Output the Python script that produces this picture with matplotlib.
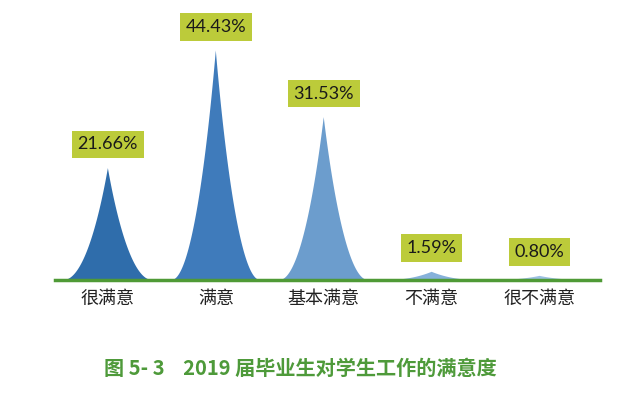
import numpy as np
import matplotlib.pyplot as plt
from matplotlib.patches import Polygon

plt.rcParams['font.family'] = ['Noto Sans CJK SC', 'DejaVu Sans']

categories = ['很满意', '满意', '基本满意', '不满意', '很不满意']
values = [21.66, 44.43, 31.53, 1.59, 0.80]
labels = ['21.66%', '44.43%', '31.53%', '1.59%', '0.80%']
colors = ['#2f6dab', '#3f7bbb', '#6c9dcd', '#86b1da', '#9cc0e2']

title = '图 5- 3    2019 届毕业生对学生工作的满意度'


def peak_outline(xc, h, half_w, n=60):
    # cubic bezier for each side: flat skirt at the base, sharp point at the top
    s = np.linspace(0, 1, n)
    p0, p1, p2, p3 = (-1.0, 0.0), (-0.55, 0.0), (-0.2, 0.55), (0.0, 1.0)
    bx = ((1 - s) ** 3) * p0[0] + 3 * ((1 - s) ** 2) * s * p1[0] + 3 * (1 - s) * s ** 2 * p2[0] + s ** 3 * p3[0]
    by = ((1 - s) ** 3) * p0[1] + 3 * ((1 - s) ** 2) * s * p1[1] + 3 * (1 - s) * s ** 2 * p2[1] + s ** 3 * p3[1]
    left = np.column_stack([xc + bx * half_w, by * h])
    right = np.column_stack([xc - bx[::-1] * half_w, by[::-1] * h])
    return np.vstack([left, right])


fig = plt.figure(figsize=(6.4, 3.95), dpi=100)
ax = fig.add_axes([55 / 640, 1 - 280 / 395, 545 / 640, 280 / 395])
ax.set_xlim(-0.49, 4.56)
ax.set_ylim(0, 54.2)

for i, (v, c) in enumerate(zip(values, colors)):
    ax.add_patch(Polygon(peak_outline(i, v, 0.41), closed=True, facecolor=c, edgecolor='none'))
    ax.annotate(labels[i], (i, v), xytext=(0, 17), textcoords='offset points',
                ha='center', va='center', fontsize=13, color='#1a1a1a', family=['Lato', 'DejaVu Sans'],
                bbox=dict(boxstyle='square,pad=0.32', facecolor='#bccb3a', edgecolor='none'))

ax.axhline(0, color='#4f9a36', lw=2.5, clip_on=False)
for s in ax.spines.values():
    s.set_visible(False)
ax.set_yticks([])
ax.set_xticks(range(len(categories)))
ax.set_xticklabels(categories, fontsize=13, color='#222222')
ax.tick_params(axis='x', length=0, pad=7)

fig.text(300 / 640, 1 - 368 / 395, title, ha='center', va='center', fontsize=14.5,
         fontweight='bold', color='#4e9a3a')

fig.savefig('out.png', dpi=100)
